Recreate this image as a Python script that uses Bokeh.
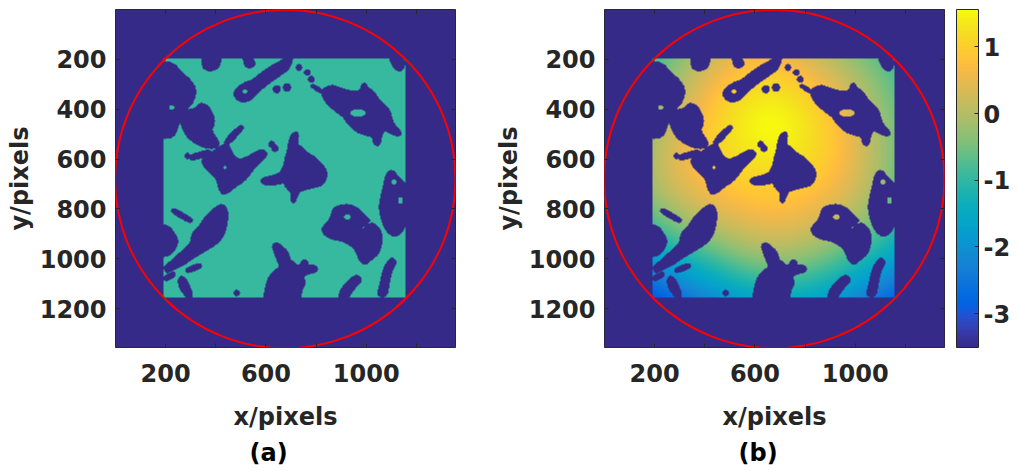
import numpy as np
from bokeh.plotting import figure
from bokeh.models import (Range1d, LinearAxis, FixedTicker, LinearColorMapper,
                          ColorBar, Title)
from bokeh.layouts import row
from bokeh.embed import file_html
from bokeh.resources import INLINE

# ---------------------------------------------------------------- data
EXTENT = 1356                      # image size in pixels (both axes)
SQUARE_X = [192, 1156]             # illuminated square aperture
SQUARE_Y = [196, 1154]
CIRCLE_X, CIRCLE_Y, CIRCLE_R = 677, 680, 679
CLIM = [-3.51, 1.56]               # colour limits of the phase map
BINARY_LEVEL = -0.95               # level used for the open area in (a)

X_TICKS = [200, 400, 600, 800, 1000, 1200]
X_LABELED = [200, 600, 1000]
Y_TICKS = [200, 400, 600, 800, 1000, 1200]
Y_LABELED = [200, 400, 600, 800, 1000, 1200]
CBAR_TICKS = [-3, -2, -1, 0, 1]

# phase samples across the aperture (rows follow FIELD_Y, columns FIELD_X)
FIELD_X = [190, 430, 670, 910, 1155]
FIELD_Y = [195, 435, 675, 915, 1155]
FIELD_V = [
    [-0.9, 0.2, 0.6, 0.0, -0.9],
    [-0.3, 0.9, 1.5, 0.8, -0.5],
    [-0.1, 0.8, 1.1, 0.7, -0.5],
    [-1.2, -0.3, 0.2, -0.2, -1.2],
    [-3.0, -2.1, -1.5, -1.8, -2.8],
]

# outlines of the masked (invalid) regions, in image pixels
pore_a_x = [185, 231, 257, 297, 317, 308, 284, 264, 244, 231, 185]
pore_a_y = [213, 220, 253, 287, 320, 367, 393, 427, 467, 507, 513]
pore_b_x = [264, 291, 324, 337, 364, 384, 391, 377, 397, 411, 391, 351, 311, 284, 268]
pore_b_y = [427, 407, 400, 380, 387, 420, 453, 487, 513, 540, 553, 547, 527, 500, 467]
pore_c_x = [353, 391, 417, 444, 457, 471, 497, 531, 564, 591, 604, 577, 551, 531,
            511, 477, 457, 431, 417, 411, 391, 371, 351]
pore_c_y = [593, 573, 553, 540, 567, 593, 607, 593, 573, 567, 580, 607, 633, 660,
            687, 707, 727, 740, 720, 687, 660, 640, 620]
pore_stick_x = [438, 500, 509, 447]
pore_stick_y = [528, 466, 476, 540]
pore_dash1_x = [298, 374, 380, 303]
pore_dash1_y = [588, 566, 578, 600]
pore_top1_x = [351, 417, 411, 391, 364, 351]
pore_top1_y = [188, 188, 227, 240, 240, 227]
pore_top2_x = [515, 533, 553, 547, 525, 518]
pore_top2_y = [188, 188, 213, 229, 229, 215]
pore_d_x = [477, 511, 551, 591, 631, 671, 680, 702, 691, 657, 617, 591, 564, 537, 504, 481]
pore_d_y = [327, 300, 287, 253, 227, 207, 188, 188, 233, 260, 287, 307, 333, 360, 367, 353]
pore_ne_x = [1098, 1140, 1150, 1140, 1118, 1105]
pore_ne_y = [188, 188, 215, 245, 237, 215]
pore_dash2_x = [782, 817, 823, 788]
pore_dash2_y = [302, 322, 333, 312]
pore_e_x = [824, 857, 897, 937, 977, 991, 1004, 1024, 1044, 1071, 1091, 1097, 1111, 1131,
            1137, 1117, 1091, 1071, 1057, 1051, 1037, 1031, 1017, 1004, 984, 964, 937,
            924, 911, 884, 851, 831]
pore_e_y = [327, 307, 320, 333, 333, 293, 320, 327, 360, 387, 407, 440, 467, 487,
            500, 500, 487, 480, 500, 540, 540, 513, 500, 500, 493, 487, 460,
            447, 427, 407, 380, 353]
pore_f_x = [711, 721, 724, 717, 737, 764, 791, 817, 837, 837, 824, 804, 777, 751, 731,
            717, 711, 704, 708, 697, 684, 677, 657, 631, 604, 584, 591, 617, 644, 664,
            677, 684, 691, 697, 704]
pore_f_y = [500, 493, 513, 540, 553, 580, 593, 620, 647, 673, 700, 707, 713, 720, 727,
            753, 773, 767, 740, 727, 713, 693, 693, 700, 700, 693, 680, 673, 667, 653,
            627, 593, 560, 527, 507]
pore_g_x = [1162, 1124, 1104, 1084, 1077, 1064, 1057, 1064, 1077, 1097, 1124, 1151, 1162]
pore_g_y = [713, 673, 647, 660, 700, 753, 793, 833, 873, 900, 907, 873, 820]
pore_h_x = [871, 911, 951, 977, 997, 1011, 997, 977, 971, 991, 1017, 1044, 1057, 1057,
            1044, 1017, 997, 977, 964, 937, 911, 884, 851, 828, 831, 851, 864]
pore_h_y = [800, 787, 793, 813, 833, 847, 860, 873, 900, 887, 860, 873, 900, 940,
            980, 1000, 1020, 1007, 967, 940, 927, 920, 913, 893, 873, 853, 833]
pore_i_x = [337, 364, 391, 417, 437, 444, 437, 424, 397, 364, 331, 297, 271, 244, 217,
            204, 197, 217, 244, 277, 304, 311, 324]
pore_i_y = [873, 833, 807, 787, 793, 827, 873, 913, 940, 960, 980, 1000, 1020, 1033, 1047,
            1053, 1033, 1020, 993, 967, 940, 900, 887]
pore_dash3_x = [226, 298, 304, 232]
pore_dash3_y = [812, 853, 843, 802]
pore_j_x = [185, 211, 231, 244, 237, 217, 185]
pore_j_y = [873, 873, 900, 927, 953, 980, 987]
pore_dash4_x = [282, 334, 340, 288]
pore_dash4_y = [1044, 1022, 1033, 1052]
pore_dash5_x = [195, 229, 235, 201]
pore_dash5_y = [1077, 1056, 1066, 1085]
pore_k_x = [597, 604, 617, 644, 664, 651, 637, 631, 644, 671, 684, 691, 711, 717, 737,
            744, 757, 764, 777, 797, 801, 777, 757, 744, 751, 737, 731]
pore_k_y = [1162, 1113, 1073, 1047, 1033, 1007, 967, 947, 940, 960, 980, 1007, 1020, 1033, 1033,
            1013, 1007, 1027, 1033, 1033, 1047, 1053, 1060, 1073, 1100, 1127, 1162]
pore_l_x = [257, 277, 291, 304, 291, 271, 257]
pore_l_y = [1073, 1080, 1113, 1147, 1153, 1133, 1107]
pore_m_x = [1051, 1057, 1064, 1071, 1084, 1104, 1117, 1104, 1091, 1084, 1077, 1057]
pore_m_y = [1140, 1113, 1087, 1053, 1020, 1000, 1013, 1033, 1073, 1113, 1147, 1147]
pore_n_x = [897, 911, 931, 951, 971, 977, 957, 937, 924, 897]
pore_n_y = [1140, 1113, 1093, 1073, 1073, 1087, 1107, 1133, 1153, 1153]

# small isolated masked specks
DOT_X = [644, 684, 731, 764, 780, 287, 624, 637, 484]
DOT_Y = [320, 313, 233, 253, 280, 587, 540, 556, 1137]
DOT_R = [9, 9, 6, 6, 6, 5, 7, 7, 6]

# open islands inside masked regions
ISLAND_X = [224, 437, 517, 967, 1111, 1137, 924]
ISLAND_Y = [393, 633, 329, 415, 693, 767, 833]
ISLAND_RX = [10, 7, 9, 30, 9, 10, 14]
ISLAND_RY = [10, 7, 7, 15, 11, 14, 10]

PORES = [
    (pore_a_x, pore_a_y), (pore_b_x, pore_b_y), (pore_c_x, pore_c_y),
    (pore_stick_x, pore_stick_y), (pore_dash1_x, pore_dash1_y),
    (pore_top1_x, pore_top1_y), (pore_top2_x, pore_top2_y), (pore_d_x, pore_d_y),
    (pore_ne_x, pore_ne_y), (pore_dash2_x, pore_dash2_y), (pore_e_x, pore_e_y),
    (pore_f_x, pore_f_y), (pore_g_x, pore_g_y), (pore_h_x, pore_h_y),
    (pore_i_x, pore_i_y), (pore_dash3_x, pore_dash3_y), (pore_j_x, pore_j_y),
    (pore_dash4_x, pore_dash4_y), (pore_dash5_x, pore_dash5_y), (pore_k_x, pore_k_y),
    (pore_l_x, pore_l_y), (pore_m_x, pore_m_y), (pore_n_x, pore_n_y),
]

# ---------------------------------------------------------------- colours
PARULA64 = [
    (0.2081, 0.1663, 0.5292), (0.2116, 0.1898, 0.5777), (0.2123, 0.2138, 0.6270),
    (0.2081, 0.2386, 0.6771), (0.1959, 0.2645, 0.7279), (0.1707, 0.2919, 0.7792),
    (0.1253, 0.3242, 0.8303), (0.0591, 0.3598, 0.8683), (0.0117, 0.3875, 0.8820),
    (0.0060, 0.4086, 0.8828), (0.0165, 0.4266, 0.8786), (0.0329, 0.4430, 0.8720),
    (0.0498, 0.4586, 0.8641), (0.0629, 0.4737, 0.8554), (0.0723, 0.4887, 0.8467),
    (0.0779, 0.5040, 0.8384), (0.0793, 0.5200, 0.8312), (0.0749, 0.5375, 0.8263),
    (0.0641, 0.5570, 0.8240), (0.0488, 0.5772, 0.8228), (0.0343, 0.5966, 0.8199),
    (0.0265, 0.6137, 0.8135), (0.0239, 0.6287, 0.8038), (0.0231, 0.6418, 0.7913),
    (0.0228, 0.6535, 0.7768), (0.0267, 0.6642, 0.7607), (0.0384, 0.6743, 0.7436),
    (0.0590, 0.6838, 0.7254), (0.0843, 0.6928, 0.7062), (0.1133, 0.7015, 0.6859),
    (0.1453, 0.7098, 0.6646), (0.1801, 0.7177, 0.6424), (0.2178, 0.7250, 0.6193),
    (0.2586, 0.7317, 0.5954), (0.3022, 0.7376, 0.5712), (0.3482, 0.7424, 0.5473),
    (0.3953, 0.7459, 0.5244), (0.4420, 0.7481, 0.5033), (0.4871, 0.7491, 0.4840),
    (0.5300, 0.7491, 0.4661), (0.5709, 0.7485, 0.4494), (0.6099, 0.7473, 0.4337),
    (0.6473, 0.7456, 0.4188), (0.6834, 0.7435, 0.4044), (0.7184, 0.7411, 0.3905),
    (0.7525, 0.7384, 0.3768), (0.7858, 0.7356, 0.3633), (0.8185, 0.7327, 0.3498),
    (0.8507, 0.7299, 0.3360), (0.8824, 0.7274, 0.3217), (0.9139, 0.7258, 0.3063),
    (0.9450, 0.7261, 0.2886), (0.9739, 0.7314, 0.2666), (0.9938, 0.7455, 0.2403),
    (0.9990, 0.7653, 0.2164), (0.9955, 0.7861, 0.1967), (0.9880, 0.8066, 0.1794),
    (0.9789, 0.8271, 0.1633), (0.9697, 0.8481, 0.1475), (0.9626, 0.8705, 0.1309),
    (0.9589, 0.8949, 0.1132), (0.9598, 0.9218, 0.0948), (0.9661, 0.9514, 0.0755),
    (0.9763, 0.9831, 0.0538),
]


def parula(n=256):
    base = np.array(PARULA64)
    t0 = np.linspace(0, 1, len(base))
    t1 = np.linspace(0, 1, n)
    rgb = np.column_stack([np.interp(t1, t0, base[:, k]) for k in range(3)])
    return ["#%02x%02x%02x" % tuple(int(round(c * 255)) for c in c3) for c3 in rgb]


INK = "#262626"
FONT = "DejaVu Sans"
FSIZE = "24px"

# ---------------------------------------------------------------- raster
CELL = 2.0
N = int(EXTENT / CELL)
centers = (np.arange(N) + 0.5) * CELL
GX, GY = np.meshgrid(centers, centers)


def chaikin(xs, ys, passes=1):
    x = np.asarray(xs, float)
    y = np.asarray(ys, float)
    for _ in range(passes):
        xn, yn = np.roll(x, -1), np.roll(y, -1)
        x = np.column_stack([0.75 * x + 0.25 * xn, 0.25 * x + 0.75 * xn]).ravel()
        y = np.column_stack([0.75 * y + 0.25 * yn, 0.25 * y + 0.75 * yn]).ravel()
    return x, y


def fill_polygon(xs, ys):
    out = np.zeros((N, N), bool)
    j0 = max(int(min(xs) / CELL) - 1, 0)
    j1 = min(int(max(xs) / CELL) + 2, N)
    i0 = max(int(min(ys) / CELL) - 1, 0)
    i1 = min(int(max(ys) / CELL) + 2, N)
    gx = centers[j0:j1][None, :]
    gy = centers[i0:i1][:, None]
    inside = np.zeros((i1 - i0, j1 - j0), bool)
    for ax_, ay_, bx_, by_ in zip(xs, ys, np.roll(xs, 1), np.roll(ys, 1)):
        if ay_ == by_:
            continue
        crosses = (ay_ > gy) != (by_ > gy)
        xint = ax_ + (gy - ay_) * (bx_ - ax_) / (by_ - ay_)
        inside ^= crosses & (gx < xint)
    out[i0:i1, j0:j1] = inside
    return out


def dilate(mask, r):
    out = mask.copy()
    for di in range(-r, r + 1):
        for dj in range(-r, r + 1):
            if di * di + dj * dj <= r * r:
                out |= np.roll(np.roll(mask, di, axis=0), dj, axis=1)
    return out


pores = np.zeros((N, N), bool)
for px, py in PORES:
    sx, sy = chaikin(px, py)
    pores |= fill_polygon(sx, sy)
for cx, cy, r in zip(DOT_X, DOT_Y, DOT_R):
    pores |= (GX - cx) ** 2 + (GY - cy) ** 2 <= r * r
pores = dilate(pores, 4)
for cx, cy, rx, ry in zip(ISLAND_X, ISLAND_Y, ISLAND_RX, ISLAND_RY):
    pores &= ~(((GX - cx) / rx) ** 2 + ((GY - cy) / ry) ** 2 <= 1.0)

aperture = ((GX >= SQUARE_X[0]) & (GX <= SQUARE_X[1]) &
            (GY >= SQUARE_Y[0]) & (GY <= SQUARE_Y[1]))
valid = aperture & ~pores

# smooth phase surface through the samples (multiquadric radial basis)
fx, fy = np.meshgrid(FIELD_X, FIELD_Y)
nodes = np.column_stack([fx.ravel(), fy.ravel()]).astype(float)
vals = np.asarray(FIELD_V, float).ravel()
SHAPE = 260.0


def kernel(d):
    return np.sqrt(d * d + SHAPE * SHAPE)


K = kernel(np.hypot(nodes[:, 0, None] - nodes[None, :, 0],
                    nodes[:, 1, None] - nodes[None, :, 1]))
w = np.linalg.solve(K, vals)
phase = np.zeros((N, N))
for k in range(len(w)):
    phase += w[k] * kernel(np.hypot(GX - nodes[k, 0], GY - nodes[k, 1]))
phase = np.clip(phase, CLIM[0], CLIM[1])

img_a = np.where(valid, BINARY_LEVEL, CLIM[0]).astype(float)
img_b = np.where(valid, phase, CLIM[0]).astype(float)

mapper = LinearColorMapper(palette=parula(256), low=CLIM[0], high=CLIM[1])


# ---------------------------------------------------------------- figures
def style_axis(ax, ticks, labeled, show_labels=True):
    ax.ticker = FixedTicker(ticks=ticks)
    ax.major_label_overrides = {t: (str(t) if (show_labels and t in labeled) else "")
                                for t in ticks}
    ax.major_tick_in = 4
    ax.major_tick_out = 0
    ax.minor_tick_in = 0
    ax.minor_tick_out = 0
    ax.axis_line_color = None
    ax.major_tick_line_color = INK
    ax.major_tick_line_width = 1
    ax.major_label_text_font = FONT
    ax.major_label_text_font_style = "bold"
    ax.major_label_text_font_size = FSIZE if show_labels else "0px"
    ax.major_label_text_color = INK
    ax.axis_label_text_font = FONT
    ax.axis_label_text_font_style = "bold"
    ax.axis_label_text_font_size = FSIZE
    ax.axis_label_text_color = INK


def panel(image, width, border_left, border_right, caption):
    p = figure(width=width, height=471, output_backend="svg", toolbar_location=None,
               x_range=Range1d(0, EXTENT), y_range=Range1d(EXTENT, 0),
               min_border_left=border_left, min_border_right=border_right,
               min_border_top=9, min_border_bottom=124)
    p.title.visible = False
    p.grid.visible = False
    p.outline_line_color = INK
    p.outline_line_width = 1
    p.background_fill_color = "#352a87"
    p.border_fill_color = "white"

    p.image(image=[image], x=0, y=0, dw=EXTENT, dh=EXTENT, color_mapper=mapper)
    p.ellipse(x=[CIRCLE_X], y=[CIRCLE_Y], width=[2 * CIRCLE_R], height=[2 * CIRCLE_R],
              fill_color=None, line_color="#ff0000", line_width=2)

    xa = p.xaxis[0]
    ya = p.yaxis[0]
    style_axis(xa, X_TICKS, X_LABELED)
    style_axis(ya, Y_TICKS, Y_LABELED)
    xa.axis_label = "x/pixels"
    ya.axis_label = "y/pixels"
    xa.major_label_standoff = 16
    xa.axis_label_standoff = 18
    ya.major_label_standoff = 9
    ya.axis_label_standoff = 3

    top = LinearAxis()
    style_axis(top, X_TICKS, X_LABELED, show_labels=False)
    top.major_label_standoff = 0
    p.add_layout(top, "above")
    right = LinearAxis()
    style_axis(right, Y_TICKS, Y_LABELED, show_labels=False)
    right.major_label_standoff = 0
    p.add_layout(right, "right")

    cap = Title(text=caption, align="left", offset=134, standoff=7,
                text_font=FONT, text_font_size=FSIZE, text_font_style="bold",
                text_color="black")
    p.add_layout(cap, "below")
    return p


pa = panel(img_a, 480, 115, 25, "(a)")
pb = panel(img_b, 538, 124, 74, "(b)")

# blank strip that keeps the colour bar clear of the frame
gap = Title(text=" ", text_font_size="1px", standoff=9, text_color="white")
pb.add_layout(gap, "right")

cbar = ColorBar(color_mapper=mapper, ticker=FixedTicker(ticks=CBAR_TICKS),
                major_label_overrides={t: str(t) for t in CBAR_TICKS},
                width=22, padding=0, margin=0, label_standoff=5,
                major_tick_in=4, major_tick_out=0, major_tick_line_color=INK,
                minor_tick_line_color=None,
                bar_line_color=INK, bar_line_width=1, border_line_color=None,
                background_fill_color=None,
                major_label_text_font=FONT, major_label_text_font_style="bold",
                major_label_text_font_size=FSIZE, major_label_text_color=INK)
pb.add_layout(cbar, "right")

layout = row(pa, pb)
open("out.html", "w").write(file_html(layout, INLINE))
